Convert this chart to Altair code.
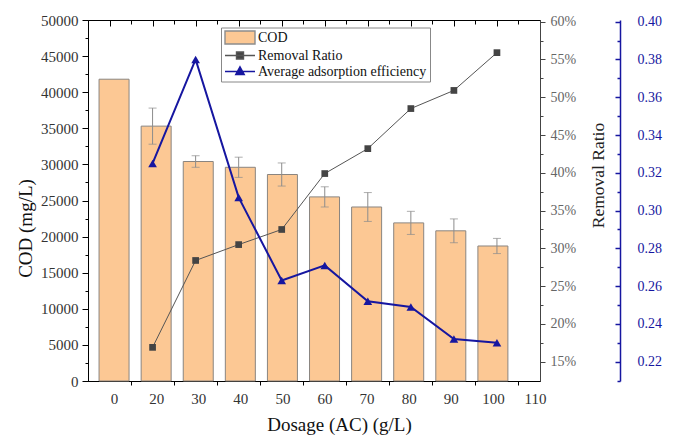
import altair as alt
import pandas as pd

# ---------------- data ----------------
x_tick_labels = ["0", "20", "30", "40", "50", "60", "70", "80", "90", "100", "110"]
dosage = ["0", "20", "30", "40", "50", "60", "70", "80", "90", "100"]
cod = [41800, 35300, 30400, 29600, 28600, 25500, 24100, 21900, 20800, 18700]
cod_err = [0, 2500, 800, 1400, 1600, 1400, 2000, 1600, 1650, 1050]

line_dosage = ["20", "30", "40", "50", "60", "70", "80", "90", "100"]
removal_ratio = [0.169, 0.284, 0.305, 0.325, 0.399, 0.432, 0.485, 0.509, 0.559]
avg_adsorption = [0.325, 0.380, 0.307, 0.263, 0.271, 0.252, 0.249, 0.232, 0.230]

series_names = ["COD", "Removal Ratio", "Average adsorption efficiency"]

# ---------------- styles ----------------
SERIF = "Liberation Serif"
BAR_FILL = "#FCC894"
BAR_STROKE = "#8a8580"
ERR_COLOR = "#8c8c8c"
GRAY_LINE = "#555555"
GRAY_MARK = "#444444"
BLUE = "#1616a0"

idx_of = {d: i for i, d in enumerate(x_tick_labels)}

bars_df = pd.DataFrame({
    "idx": [idx_of[d] for d in dosage],
    "cod": cod,
    "err": cod_err,
})
bars_df["lo"] = bars_df["cod"] - bars_df["err"]
bars_df["hi"] = bars_df["cod"] + bars_df["err"]

line_df = pd.DataFrame({
    "idx": [idx_of[d] for d in line_dosage],
    "rr": removal_ratio,
    "ae": avg_adsorption,
})

X_DOMAIN = [-0.5, 10]
COD_DOMAIN = [0, 50000]
RR_DOMAIN = [0.1245, 0.6022]
AE_DOMAIN = [0.2098, 0.4009]


def xs(axis=None):
    return alt.X("idx:Q", scale=alt.Scale(domain=X_DOMAIN, nice=False, zero=False), axis=axis)


def ysc(domain):
    return alt.Scale(domain=domain, nice=False, zero=False)


label_expr = "[" + ",".join("'%s'" % s for s in x_tick_labels) + "][round(datum.value)]"

# ---------------- bars + left axis + bottom labels ----------------
bars = alt.Chart(bars_df).mark_bar(
    size=30, fill=BAR_FILL, stroke=BAR_STROKE, strokeWidth=1
).encode(
    x=xs(alt.Axis(
        orient="bottom", values=list(range(len(x_tick_labels))), labelExpr=label_expr,
        ticks=False, tickSize=0, labelPadding=10, domainColor="#000",
        labelFont=SERIF, labelFontSize=15, labelColor="#333",
        title="Dosage (AC) (g/L)", titleFont=SERIF, titleFontSize=19, titleColor="#111",
        titleFontWeight="normal",
        titleX=251, titleY=49, titleAlign="center", titleBaseline="alphabetic",
    )),
    y=alt.Y("cod:Q", scale=ysc(COD_DOMAIN), axis=alt.Axis(
        orient="left", values=list(range(0, 50001, 5000)), format="d",
        tickSize=6, labelPadding=4, labelFont=SERIF, labelFontSize=15, labelColor="#333",
        domainColor="#000", tickColor="#000",
        title="COD (mg/L)", titleFont=SERIF, titleFontSize=19, titleColor="#111", titleAngle=270,
        titleFontWeight="normal",
        titleX=-63, titleY=208, titleAlign="center", titleBaseline="middle",
    )),
)

err_base = alt.Chart(bars_df).transform_filter("datum.err > 0")
err_rule = err_base.mark_rule(color=ERR_COLOR, strokeWidth=1).encode(
    x=xs(), y=alt.Y("lo:Q", scale=ysc(COD_DOMAIN), axis=None), y2="hi:Q"
)
err_cap_lo = err_base.mark_tick(orient="horizontal", size=8, thickness=1, color=ERR_COLOR).encode(
    x=xs(), y=alt.Y("lo:Q", scale=ysc(COD_DOMAIN), axis=None)
)
err_cap_hi = err_base.mark_tick(orient="horizontal", size=8, thickness=1, color=ERR_COLOR).encode(
    x=xs(), y=alt.Y("hi:Q", scale=ysc(COD_DOMAIN), axis=None)
)

# left minor ticks
left_minor = alt.Chart(bars_df).mark_point(opacity=0).encode(
    x=xs(),
    y=alt.Y("cod:Q", scale=ysc(COD_DOMAIN), axis=alt.Axis(
        orient="left", values=list(range(2500, 50000, 5000)), labels=False, domain=False,
        tickSize=3, tickColor="#000", title=None,
    )),
)

# bottom ticks (between categories)
bottom_ticks = alt.Chart(bars_df).mark_point(opacity=0).encode(
    x=xs(alt.Axis(orient="bottom", values=[i + 0.5 for i in range(10)], labels=False,
                  domain=False, tickSize=4, tickColor="#000", title=None)),
    y=alt.Y("cod:Q", scale=ysc(COD_DOMAIN), axis=None),
)

# top inward ticks
top_major = alt.Chart(bars_df).mark_point(opacity=0).encode(
    x=xs(alt.Axis(orient="top", values=list(range(10)), labels=False, domain=False,
                  tickSize=6, offset=-6, tickColor="#000", title=None)),
    y=alt.Y("cod:Q", scale=ysc(COD_DOMAIN), axis=None),
)
top_minor = alt.Chart(bars_df).mark_point(opacity=0).encode(
    x=xs(alt.Axis(orient="top", values=[i + 0.5 for i in range(10)], labels=False, domain=False,
                  tickSize=4, offset=-4, tickColor="#000", title=None)),
    y=alt.Y("cod:Q", scale=ysc(COD_DOMAIN), axis=None),
)

# ---------------- removal ratio ----------------
rr_line = alt.Chart(line_df).mark_line(color=GRAY_LINE, strokeWidth=1).encode(
    x=xs(),
    y=alt.Y("rr:Q", scale=ysc(RR_DOMAIN), axis=alt.Axis(
        orient="right", values=[round(0.15 + 0.05 * i, 2) for i in range(10)], format=".0%",
        tickSize=5, labelPadding=5, labelFont=SERIF, labelFontSize=14, labelColor="#666",
        domainColor="#444", tickColor="#444",
        title="Removal Ratio", titleFont=SERIF, titleFontSize=17.5, titleColor="#222",
        titleFontWeight="normal", titleAngle=270,
        titleX=58, titleY=155, titleAlign="center", titleBaseline="middle",
    )),
)
rr_pts = alt.Chart(line_df).mark_point(shape="square", filled=True, size=45, color=GRAY_MARK, opacity=1).encode(
    x=xs(), y=alt.Y("rr:Q", scale=ysc(RR_DOMAIN), axis=None)
)
rr_minor = alt.Chart(line_df).mark_point(opacity=0).encode(
    x=xs(),
    y=alt.Y("rr:Q", scale=ysc(RR_DOMAIN), axis=alt.Axis(
        orient="right", values=[round(0.175 + 0.05 * i, 3) for i in range(9)], labels=False,
        domain=False, tickSize=3, tickColor="#444", title=None,
    )),
)

# ---------------- average adsorption efficiency ----------------
ae_major_vals = [round(0.22 + 0.02 * i, 2) for i in range(10)]
ae_line = alt.Chart(line_df).mark_line(color=BLUE, strokeWidth=2).encode(
    x=xs(),
    y=alt.Y("ae:Q", scale=ysc(AE_DOMAIN), axis=alt.Axis(
        orient="right", offset=80, values=ae_major_vals, format=".2f",
        ticks=False, tickSize=0, labelPadding=17, labelFont=SERIF, labelFontSize=14,
        labelColor=BLUE, domainColor=BLUE, domainWidth=1.5, title=None,
    )),
)
ae_pts = alt.Chart(line_df).mark_point(shape="triangle-up", filled=True, size=75, color=BLUE, opacity=1).encode(
    x=xs(), y=alt.Y("ae:Q", scale=ysc(AE_DOMAIN), axis=None)
)
ae_ticks = alt.Chart(line_df).mark_point(opacity=0).encode(
    x=xs(),
    y=alt.Y("ae:Q", scale=ysc(AE_DOMAIN), axis=alt.Axis(
        orient="right", offset=75, values=ae_major_vals, labels=False, domain=False,
        tickSize=5, tickColor=BLUE, tickWidth=1.5, title=None,
    )),
)
ae_minor = alt.Chart(line_df).mark_point(opacity=0).encode(
    x=xs(),
    y=alt.Y("ae:Q", scale=ysc(AE_DOMAIN), axis=alt.Axis(
        orient="right", offset=77, values=[round(0.21 + 0.02 * i, 2) for i in range(10)],
        labels=False, domain=False, tickSize=3, tickColor=BLUE, tickWidth=1.5, title=None,
    )),
)

# ---------------- legend ----------------
legend_df = pd.DataFrame({"series": series_names})
legend_fill = [BAR_FILL, GRAY_MARK, BLUE]
legend_stroke = [ERR_COLOR, GRAY_LINE, BLUE]
legend_paths = [
    "M-3,-1.3H3V1.3H-3Z",
    "M-3,0H3M-0.7,-0.7H0.7V0.7H-0.7Z",
    "M-3,0H3M0,-0.95L0.85,0.6H-0.85Z",
]
leg = alt.Legend(
    title=None, orient="none", legendX=133, legendY=7.5, symbolSize=100,
    symbolOffset=9, labelOffset=11, padding=3, rowPadding=1,
    strokeColor="#888", fillColor="white", symbolOpacity=1,
    labelFontSize=14, labelFont=SERIF, labelColor="#111", symbolStrokeWidth=1.4,
    labelLimit=400,
)
legend_layer = alt.Chart(legend_df).mark_point(filled=True, size=100, opacity=1).encode(
    fill=alt.Fill("series:N", scale=alt.Scale(domain=series_names, range=legend_fill), legend=leg),
    stroke=alt.Stroke("series:N", scale=alt.Scale(domain=series_names, range=legend_stroke), legend=leg),
    shape=alt.Shape("series:N", scale=alt.Scale(domain=series_names, range=legend_paths), legend=leg),
).transform_filter("false")

chart = alt.layer(
    bars, err_rule, err_cap_lo, err_cap_hi, left_minor, bottom_ticks, top_major, top_minor,
    rr_line, rr_pts, rr_minor, ae_line, ae_pts, ae_ticks, ae_minor, legend_layer,
).resolve_scale(
    x="independent", y="independent"
).properties(
    width=452, height=361,
    autosize=alt.AutoSizeParams(type="none"),
    padding={"left": 88, "top": 20, "right": 135, "bottom": 54},
    background="white",
).configure_view(
    stroke="#000", strokeWidth=1
).configure_axis(
    labelFont=SERIF, titleFont=SERIF, grid=False, labelFlush=False, labelOverlap=False,
    titleFontWeight="normal",
).configure_legend(
    labelFont=SERIF, labelFontSize=14
)

chart.save("out.html", embed_options={"renderer": "svg", "actions": False})
